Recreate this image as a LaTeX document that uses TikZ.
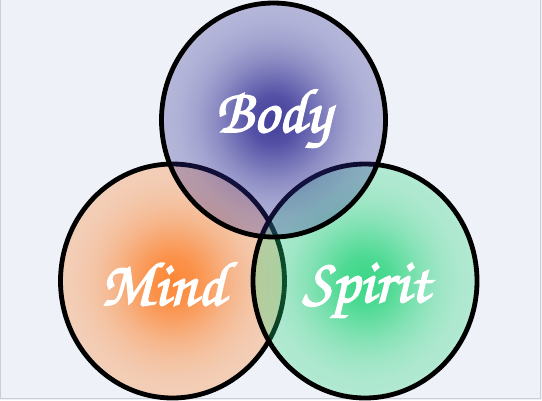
\documentclass[tikz,border=0pt]{standalone}
\usepackage{fontspec}
\newfontfamily\vennscript[FakeBold=2.4]{texgyrechorus-mediumitalic.otf}
\usepackage{xcolor}
\definecolor{vennBg}{HTML}{EEF2F8}
\definecolor{vennFrame}{HTML}{C9CDD4}
\definecolor{bodyBlue}{RGB}{45,40,145}
\definecolor{mindOrange}{RGB}{255,122,30}
\definecolor{spiritGreen}{RGB}{35,212,120}
\usepackage{tikz}
\usetikzlibrary{fadings, positioning}
\pgfdeclareradialshading{vennglow}{\pgfpoint{0bp}{0bp}}{color(0bp)=(pgftransparent!12);
  color(5bp)=(pgftransparent!20); color(9bp)=(pgftransparent!35);
  color(13bp)=(pgftransparent!50); color(17bp)=(pgftransparent!61);
  color(21bp)=(pgftransparent!68); color(25bp)=(pgftransparent!71);
  color(50bp)=(pgftransparent!71)}
\pgfdeclarefading{vennglow}{\pgfuseshading{vennglow}}
\newcommand{\vennword}{\vennscript\fontsize{47}{47}\selectfont}

\begin{document}
\begin{tikzpicture}[x=0.75pt, y=-0.75pt,
  ring/.style={draw=black, line width=3.6pt},
  glow/.style={fill=#1, path fading=vennglow},
  word/.style={text=white, font=\vennword, anchor=base, inner sep=0pt}]
  \useasboundingbox (0,0) rectangle (542,400);
  \clip (0,0) rectangle (542,400);
  \fill[vennBg] (0,0) rectangle (542,400);
  \draw[vennFrame, line width=0.8pt] (0.5,0) -- (0.5,398.5) -- (540.5,398.5) -- (540.5,0);
  \fill[glow=mindOrange] (172.5,281) ellipse [x radius=112, y radius=117];
  \draw[ring] (172.5,281) ellipse [x radius=112, y radius=117];
  \fill[glow=spiritGreen] (365,281) ellipse [x radius=112, y radius=117];
  \draw[ring] (365,281) ellipse [x radius=112, y radius=117];
  \fill[glow=bodyBlue] (273.5,120) ellipse [x radius=112, y radius=117];
  \draw[ring] (273.5,120) ellipse [x radius=112, y radius=117];
  \node[word] (body) at (273,132) {Body};
  \node[word] (mind) at (163,305) {Mind};
  \node[word] (spirit) at (366,302) {Spirit};
\end{tikzpicture}
\end{document}
